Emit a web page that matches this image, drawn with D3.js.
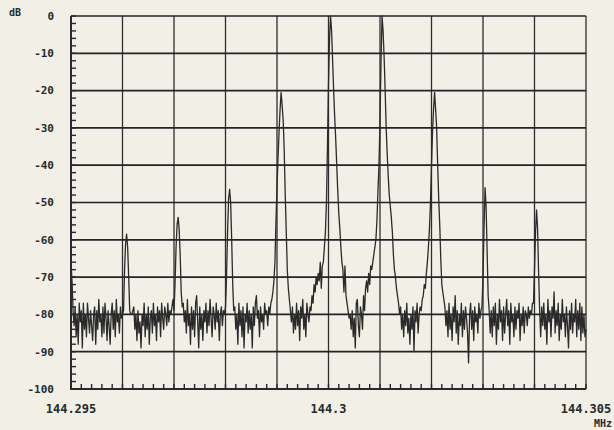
<!DOCTYPE html>
<html>
<head>
<meta charset="utf-8">
<script src="https://cdnjs.cloudflare.com/ajax/libs/d3/7.8.5/d3.min.js"></script>
<style>
  body { margin: 0; background: #f1efe6; }
  svg { display: block; }
</style>
</head>
<body>
<svg id="drawing_region"></svg>
<script>
// sweep: 501 points from 144.295 MHz, 20 Hz apart
const freqStart = 144.295;
const freqStep = 0.00002;
const traceDb = [
  -66, -71, -79, -83, -78, -86, -80, -88, -77, -82,
  -79, -89, -77, -84, -80, -86, -77, -81, -85, -79,
  -83, -87, -80, -78, -88, -79, -84, -76, -82, -80,
  -86, -78, -85, -77, -81, -87, -79, -83, -88, -80,
  -77, -84, -79, -86, -76, -82, -80, -85, -78, -81,
  -80, -79, -68, -61, -58.5, -62, -70, -79, -80, -80,
  -79, -78, -84, -80, -87, -79, -85, -82, -89, -80,
  -83, -77, -86, -80, -84, -78, -88, -81, -79, -85,
  -77, -83, -80, -87, -78, -82, -79, -86, -77, -81,
  -84, -78, -80, -83, -77, -82, -79, -80, -78, -76,
  -79, -72, -62, -56, -54, -57, -64, -74, -78, -77,
  -82, -79, -85, -76, -83, -80, -88, -78, -84, -79,
  -86, -77, -75, -82, -89, -78, -84, -80, -87, -79,
  -82, -77, -85, -79, -83, -76, -81, -86, -78, -80,
  -84, -77, -82, -79, -87, -80, -78, -83, -79, -80,
  -78, -70, -58, -49, -46.5, -50, -60, -72, -79, -78,
  -84, -80, -88, -77, -83, -79, -86, -78, -89, -80,
  -82, -77, -85, -79, -84, -80, -89, -78, -83, -77,
  -75, -81, -79, -86, -78, -82, -80, -84, -77, -80,
  -79, -83, -78, -80, -77, -76, -74, -71, -66, -55,
  -46, -38, -31, -25, -20.5, -24, -28, -36, -48, -58,
  -68, -73, -76, -79, -82, -78, -85, -80, -84, -77,
  -83, -79, -87, -78, -81, -76, -84, -80, -86, -77,
  -80, -82, -78, -79, -75, -77, -72, -74, -70, -72,
  -69, -71, -66, -73, -67, -66, -62, -58, -50, -35,
  -18, -6, 0, -4, -12, -20, -27, -33, -40, -47,
  -53, -57, -62, -66, -68, -74, -67, -75, -77, -79,
  -81, -80, -84, -79, -86, -81, -89, -77, -76, -83,
  -86, -78, -80, -84, -75, -79, -73, -71, -74, -69,
  -72, -67, -68, -66, -64, -62, -60, -55, -47, -40,
  -28, -12, 0, -4, -11, -20, -30, -37, -43, -48,
  -51, -54, -58, -64, -68, -70, -73, -75, -77, -80,
  -78, -84, -80, -86, -79, -83, -77, -85, -81, -88,
  -80, -84, -78, -90, -79, -82, -77, -85, -80, -78,
  -79, -76, -75, -72, -73, -69, -66, -62, -57, -50,
  -40, -31, -25, -20.5, -25, -30, -40, -49, -56, -65,
  -72, -74, -76, -78, -83, -79, -86, -77, -84, -80,
  -87, -78, -82, -75, -85, -79, -88, -80, -83, -77,
  -86, -79, -84, -78, -81, -85, -93, -80, -77, -84,
  -79, -87, -78, -82, -80, -85, -77, -81, -79, -78,
  -70, -57, -46, -51, -63, -75, -79, -85, -79, -86,
  -78, -83, -77, -88, -80, -84, -76, -82, -79, -87,
  -78, -85, -80, -76, -83, -79, -88, -77, -82, -80,
  -86, -78, -84, -79, -81, -77, -87, -80, -83, -78,
  -85, -79, -80, -83, -78, -81, -79, -80, -77, -77,
  -68, -58, -52, -57, -69, -79, -86, -78, -83, -77,
  -84, -80, -88, -76, -82, -79, -86, -78, -81, -74,
  -85, -79, -83, -77, -87, -80, -84, -76, -82, -80,
  -86, -78, -83, -89, -79, -84, -77, -85, -80, -82,
  -76, -86, -79, -84, -77, -87, -78, -85, -80, -86,
  -84
];

const yTicks = [0, -10, -20, -30, -40, -50, -60, -70, -80, -90, -100];
const xTickValues = [144.295, 144.3, 144.305];
const xTickLabels = ["144.295", "144.3", "144.305"];
const yUnit = "dB";
const xUnit = "MHz";

var config = {
  parent: '#drawing_region',
  width: 614,
  height: 430,
  margin: {top: 16, right: 28, bottom: 41, left: 71}
};

class SpectrumPlot {
  constructor(config) {
    this.config = config;
    this.data = traceDb.map((db, i) => ({ f: freqStart + i * freqStep, db: db }));
    this.init();
  }
  init() {
    const c = this.config;
    this.svg = d3.select(c.parent)
      .attr('width', c.width)
      .attr('height', c.height);
    this.inner_width = c.width - c.margin.left - c.margin.right;
    this.inner_height = c.height - c.margin.top - c.margin.bottom;
    this.chart = this.svg.append('g')
      .attr('transform', `translate(${c.margin.left}, ${c.margin.top})`);

    this.xscale = d3.scaleLinear()
      .domain([144.295, 144.305])
      .range([0, this.inner_width]);
    this.yscale = d3.scaleLinear()
      .domain([-100, 0])
      .range([this.inner_height, 0]);

    this.line = d3.line()
      .x(d => this.xscale(d.f))
      .y(d => this.yscale(d.db));
  }
  render() {
    const w = this.inner_width, h = this.inner_height;
    const ink = '#262a2c';

    // vertical grid, one per kHz
    this.chart.append('g').selectAll('line')
      .data(this.xscale.ticks(10))
      .join('line')
      .attr('x1', d => this.xscale(d)).attr('x2', d => this.xscale(d))
      .attr('y1', 0).attr('y2', h)
      .attr('stroke', '#2e2e2e')
      .attr('stroke-width', 1.3);

    // horizontal grid, every 10 dB
    this.chart.append('g').selectAll('line')
      .data(yTicks)
      .join('line')
      .attr('x1', 0).attr('x2', w)
      .attr('y1', d => this.yscale(d)).attr('y2', d => this.yscale(d))
      .attr('stroke', '#1d2529')
      .attr('stroke-width', 1.7);

    // minor ticks, inward
    this.chart.append('g').selectAll('line')
      .data(this.yscale.ticks(50))
      .join('line')
      .attr('x1', 0).attr('x2', 5)
      .attr('y1', d => this.yscale(d)).attr('y2', d => this.yscale(d))
      .attr('stroke', ink).attr('stroke-width', 1.4);
    this.chart.append('g').selectAll('line')
      .data(this.xscale.ticks(50))
      .join('line')
      .attr('x1', d => this.xscale(d)).attr('x2', d => this.xscale(d))
      .attr('y1', h).attr('y2', h - 5)
      .attr('stroke', ink).attr('stroke-width', 1.4);

    // frame
    this.chart.append('path')
      .attr('d', `M0,0V${h}H${w}`)
      .attr('fill', 'none')
      .attr('stroke', ink)
      .attr('stroke-width', 1.9);

    // the trace
    this.chart.append('path')
      .attr('d', this.line(this.data))
      .attr('fill', 'none')
      .attr('stroke', '#2a2a2a')
      .attr('stroke-width', 1.3)
      .attr('stroke-linejoin', 'round');

    // labels
    const font = '"DejaVu Sans Mono", monospace';
    this.chart.append('g').selectAll('text')
      .data(yTicks)
      .join('text')
      .attr('x', -17)
      .attr('y', d => this.yscale(d))
      .attr('dy', '0.35em')
      .attr('text-anchor', 'end')
      .attr('font-family', font)
      .attr('font-size', 11)
      .attr('font-weight', 'bold')
      .attr('fill', ink)
      .text(d => d);

    this.chart.append('g').selectAll('text')
      .data(xTickValues)
      .join('text')
      .attr('x', d => this.xscale(d))
      .attr('y', h + 24)
      .attr('text-anchor', 'middle')
      .attr('font-family', font)
      .attr('font-size', 12)
      .attr('font-weight', 'bold')
      .attr('fill', ink)
      .text((d, i) => xTickLabels[i]);

    this.chart.append('text')
      .attr('x', -62).attr('y', 0)
      .attr('font-family', font).attr('font-size', 10)
      .attr('font-weight', 'bold')
      .attr('fill', ink)
      .text(yUnit);

    this.chart.append('text')
      .attr('x', w + 26).attr('y', h + 38)
      .attr('text-anchor', 'end')
      .attr('font-family', font).attr('font-size', 10)
      .attr('font-weight', 'bold')
      .attr('fill', ink)
      .text(xUnit);
  }
}

const plot = new SpectrumPlot(config);
plot.render();
</script>
</body>
</html>
